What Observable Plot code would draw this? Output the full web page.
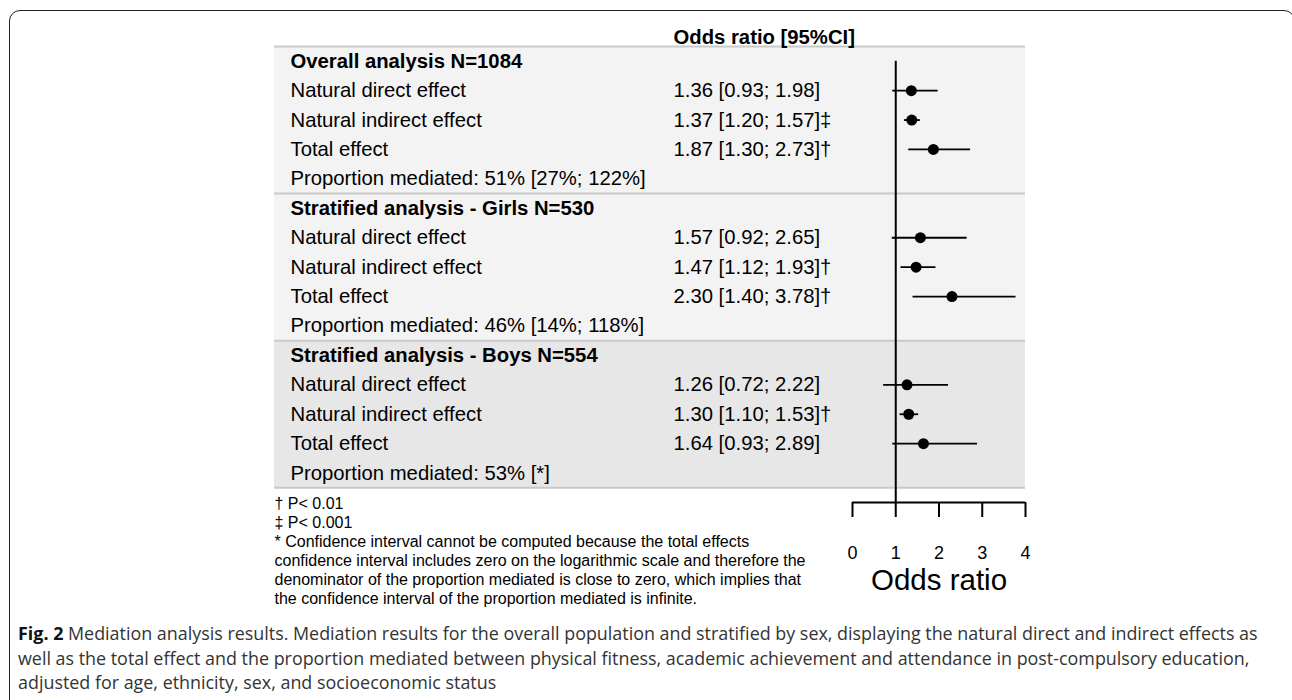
<!DOCTYPE html>
<html><head><meta charset="utf-8">
<script src="https://cdn.jsdelivr.net/npm/d3@7"></script>
<script src="https://cdn.jsdelivr.net/npm/@observablehq/plot@0.6"></script>
<style>
body{margin:0;background:#fff;width:1292px;height:700px;overflow:hidden;position:relative;font-family:"Liberation Sans",Arial,sans-serif;}
#frame{position:absolute;left:9px;top:10px;width:1286px;height:760px;border:1.6px solid #222;border-radius:11px;box-sizing:border-box;}
#chart{position:absolute;left:0;top:0;}
#caption{position:absolute;left:18px;top:621px;font-family:"Open Sans",sans-serif;font-size:17.9px;line-height:24.5px;color:#333;white-space:nowrap;}
#caption b{color:#111;}
</style></head>
<body><div id="frame"></div><div id="chart"></div><div id="caption"></div>
<script>
const groupTitles = ["Overall analysis N=1084", "Stratified analysis - Girls N=530", "Stratified analysis - Boys N=554"];
const effectNames = ["Natural direct effect", "Natural indirect effect", "Total effect"];
const oddsRatios = [[1.36, 1.37, 1.87], [1.57, 1.47, 2.30], [1.26, 1.30, 1.64]];
const ciLow = [[0.93, 1.20, 1.30], [0.92, 1.12, 1.40], [0.72, 1.10, 0.93]];
const ciHigh = [[1.98, 1.57, 2.73], [2.65, 1.93, 3.78], [2.22, 1.53, 2.89]];
const sigMarks = [["", "‡", "†"], ["", "†", "†"], ["", "†", ""]];
const propMediated = ["51% [27%; 122%]", "46% [14%; 118%]", "53% [*]"];
const xTicks = [0, 1, 2, 3, 4];
const columnTitle = "Odds ratio [95%CI]";
const axisTitle = "Odds ratio";
const footnotes = [
  "† P< 0.01",
  "‡ P< 0.001",
  "* Confidence interval cannot be computed because the total effects",
  "confidence interval includes zero on the logarithmic scale and therefore the",
  "denominator of the proportion mediated is close to zero, which implies that",
  "the confidence interval of the proportion mediated is infinite."
];
const captionLines = [
  ["Fig. 2", " Mediation analysis results. Mediation results for the overall population and stratified by sex, displaying the natural direct and indirect effects as"],
  ["", "well as the total effect and the proportion mediated between physical fitness, academic achievement and attendance in post-compulsory education,"],
  ["", "adjusted for age, ethnicity, sex, and socioeconomic status"]
];

// build table rows
const rows = [];
const effects = [];
const groups = [];
groupTitles.forEach((title, g) => {
  const start = rows.length;
  rows.push({row: rows.length, label: title, bold: true});
  effectNames.forEach((name, k) => {
    const r = rows.length;
    rows.push({row: r, label: name, bold: false});
    effects.push({
      row: r, or: oddsRatios[g][k], lo: ciLow[g][k], hi: ciHigh[g][k],
      text: `${oddsRatios[g][k].toFixed(2)} [${ciLow[g][k].toFixed(2)}; ${ciHigh[g][k].toFixed(2)}]${sigMarks[g][k]}`
    });
  });
  rows.push({row: rows.length, label: "Proportion mediated: " + propMediated[g], bold: false});
  groups.push({g, start, end: rows.length - 1});
});

const W = 1292, H = 612;
const tableLeft = 274, tableRight = 1025, tableTop = 46, axisY = 502;
const fontStack = "'Liberation Sans', Arial, Helvetica, sans-serif";
const rowFont = 20.3;

const plot = Plot.plot({
  width: W, height: H,
  marginLeft: tableLeft, marginRight: W - tableRight, marginTop: tableTop, marginBottom: H - axisY,
  style: {fontFamily: fontStack, color: "#000", background: "transparent", overflow: "visible"},
  x: {type: "linear", domain: [d3.min(xTicks), d3.max(xTicks)], range: [852, 1025]},
  y: {type: "linear", domain: [-0.5, rows.length], range: [tableTop, axisY], axis: null},
  marks: [
    Plot.rect(groups, {y1: d => d.start - 0.5, y2: d => d.end + 0.5, fill: d => d.g === 2 ? "#e7e7e7" : "#f3f3f3"}),
    Plot.ruleY([-0.5, ...groups.map(d => d.end + 0.5)], {stroke: "#c9c9c9", strokeWidth: 2}),
    Plot.ruleX([1], {y1: 0, y2: rows.length, stroke: "#000", strokeWidth: 2}),
    Plot.ruleY(effects, {y: "row", x1: "lo", x2: "hi", stroke: "#000", strokeWidth: 1.8}),
    Plot.dot(effects, {x: "or", y: "row", r: 5.5, fill: "#000", stroke: "none"}),
    Plot.text(rows.filter(d => d.bold), {y: "row", text: "label", frameAnchor: "left", textAnchor: "start", dx: 16,
      fontSize: rowFont, fontWeight: "bold", fill: "#000"}),
    Plot.text(rows.filter(d => !d.bold), {y: "row", text: "label", frameAnchor: "left", textAnchor: "start", dx: 16,
      fontSize: rowFont, fill: "#000"}),
    Plot.text(effects, {y: "row", text: "text", frameAnchor: "left", textAnchor: "start", dx: 399,
      fontSize: rowFont, fill: "#000"}),
    Plot.text([columnTitle], {frameAnchor: "top-left", textAnchor: "start", lineAnchor: "middle", dx: 399, dy: -9.5,
      fontSize: rowFont, fontWeight: "bold", fill: "#000"}),
    Plot.ruleY([rows.length], {x1: d3.min(xTicks), x2: d3.max(xTicks), stroke: "#000", strokeWidth: 2}),
    Plot.axisX({ticks: xTicks, tickSize: 15, tickPadding: 29, fontSize: 18, label: null, stroke: "#000", strokeWidth: 2, fill: "#000", tickFormat: d3.format("d")}),
    Plot.text([axisTitle], {x: d3.mean(xTicks), frameAnchor: "bottom", lineAnchor: "middle", dy: 78, fontSize: 29.5, fill: "#000"}),
    Plot.text([footnotes.join("\n")], {frameAnchor: "bottom-left", textAnchor: "start", lineAnchor: "top", dy: -7,
      fontSize: 16, lineHeight: 1.19, fill: "#000"})
  ]
});
document.getElementById("chart").appendChild(plot);

const cap = document.getElementById("caption");
cap.innerHTML = captionLines.map(([b, t]) => (b ? `<b>${b}</b>` : "") + t).join("<br>");
</script></body></html>
